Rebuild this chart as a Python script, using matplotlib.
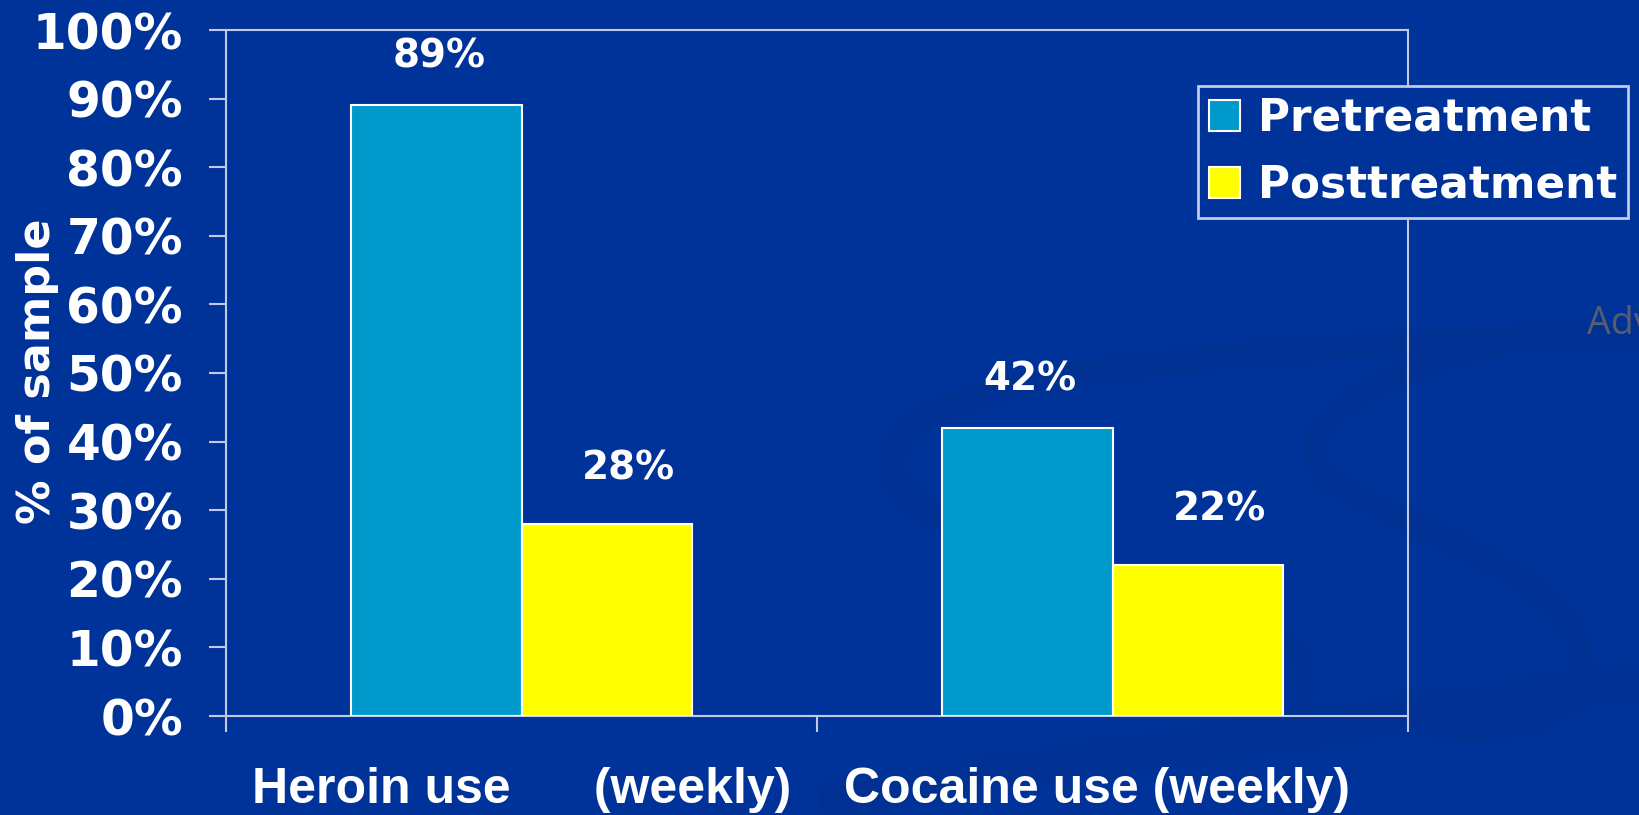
import matplotlib
matplotlib.use("Agg")
import matplotlib.pyplot as plt
from matplotlib.patches import PathPatch
from matplotlib.path import Path
from matplotlib.transforms import ScaledTranslation
import numpy as np

# ---------------- data ----------------
categories = ["Heroin use      (weekly)", "Cocaine use (weekly)"]
series_names = ["Pretreatment", "Posttreatment"]
pretreatment = [89, 42]
posttreatment = [28, 22]
yticks = [0, 10, 20, 30, 40, 50, 60, 70, 80, 90, 100]
ytick_labels = [f"{v}%" for v in yticks]
ylabel = "% of sample"

# ---------------- style ----------------
BG = "#003399"
DARK = "#003192"
LINE = "#c3c9e2"
PRE_C = "#0099cc"
POST_C = "#ffff00"
W, H = 1639, 815

fig = plt.figure(figsize=(W / 100, H / 100), dpi=100, facecolor=BG)

# decorative background swooshes (slide template), y measured from top
bg = fig.add_axes([0, 0, 1, 1], zorder=0)
bg.set_xlim(0, W)
bg.set_ylim(H, 0)
bg.axis("off")


def curve(pts, lw):
    codes = [Path.MOVETO] + [Path.CURVE4] * (len(pts) - 1)
    for k, a in ((1.0, 0.5), (0.6, 1.0)):
        bg.add_patch(PathPatch(Path(pts, codes), fill=False, edgecolor=DARK,
                               lw=lw * k, alpha=a, capstyle="round"))


# big upper swoosh running from the right edge to a loop on the left
curve([(1660, 335), (1300, 340), (1000, 370), (920, 420),
       (860, 460), (900, 520), (1000, 540)], 22)
# S-shaped swoosh at the right
curve([(1560, 330), (1400, 360), (1270, 420), (1330, 480),
       (1420, 540), (1600, 580), (1580, 680),
       (1560, 740), (1460, 730), (1420, 725)], 20)
# crescent inside the plot, lower right
curve([(1200, 600), (1290, 620), (1320, 660), (1300, 720)], 16)
# diagonal band at the bottom
bg.plot([820, 1700], [800, 672], color=DARK, lw=30, alpha=0.6,
        solid_capstyle="butt")
bg.plot([820, 1700], [800, 672], color=DARK, lw=18, solid_capstyle="butt")

ax = fig.add_axes([226 / W, 1 - 716 / H, (1408 - 226) / W, (716 - 30) / H], zorder=1)
ax.patch.set_alpha(0)

x = np.arange(len(categories))
bw = 0.288
b1 = ax.bar(x - bw / 2, pretreatment, bw, color=PRE_C, edgecolor="white",
            linewidth=1.5, label=series_names[0], zorder=3)
b2 = ax.bar(x + bw / 2, posttreatment, bw, color=POST_C, edgecolor="white",
            linewidth=1.5, label=series_names[1], zorder=3)

lab_font = dict(family="DejaVu Sans", weight="bold", size=28, color="white")
for rect, v in zip(b1, pretreatment):
    ax.annotate(f"{v}%", (rect.get_x() + rect.get_width() / 2, v),
                xytext=(2, 35), textcoords="offset points",
                ha="center", va="center", **lab_font)
for rect, v in zip(b2, posttreatment):
    ax.annotate(f"{v}%", (rect.get_x() + rect.get_width() / 2, v),
                xytext=(16, 40), textcoords="offset points",
                ha="center", va="center", **lab_font)

ax.set_xlim(-0.5, 1.5)
ax.set_ylim(0, 100)

for s in ax.spines.values():
    s.set_color(LINE)
    s.set_linewidth(1.5)

ax.set_yticks(yticks)
ax.set_yticklabels(ytick_labels, family="DejaVu Sans", weight="bold",
                   size=35, color="white")
ax.tick_params(axis="y", length=12, width=1.5, color=LINE, pad=19)

ax.set_xticks([-0.5, 0.5, 1.5])
ax.set_xticklabels([])
ax.tick_params(axis="x", which="major", length=11.5, width=1.5, color=LINE)
ax.set_xticks(x, minor=True)
xl = ax.set_xticklabels(categories, minor=True, family="Liberation Sans",
                        weight="bold", size=36, color="white")
ax.tick_params(axis="x", which="minor", length=0, pad=37)
xl[1].set_transform(xl[1].get_transform() +
                    ScaledTranslation(-0.15, 0, fig.dpi_scale_trans))

fig.text(38 / W, 1 - 371 / H, ylabel, rotation=90, ha="center", va="center",
         family="DejaVu Sans", weight="bold", size=32, color="white")

leg = ax.legend(loc="upper left", bbox_to_anchor=(1198 / W, 1 - 86 / H),
                bbox_transform=fig.transFigure,
                prop=dict(family="DejaVu Sans", weight="bold", size=31.5),
                labelcolor="white", frameon=True, fancybox=False,
                facecolor=BG, edgecolor=LINE, framealpha=1,
                handlelength=0.72, handleheight=0.72, handletextpad=0.4,
                labelspacing=0.55, borderpad=0.25, borderaxespad=0)
leg.get_frame().set_linewidth(2)

fig.text(1587 / W, 1 - 324 / H, "Adv", color="#585c70", size=27,
         family="Open Sans", ha="left", va="center")

fig.savefig("out.png", dpi=100, facecolor=BG)
